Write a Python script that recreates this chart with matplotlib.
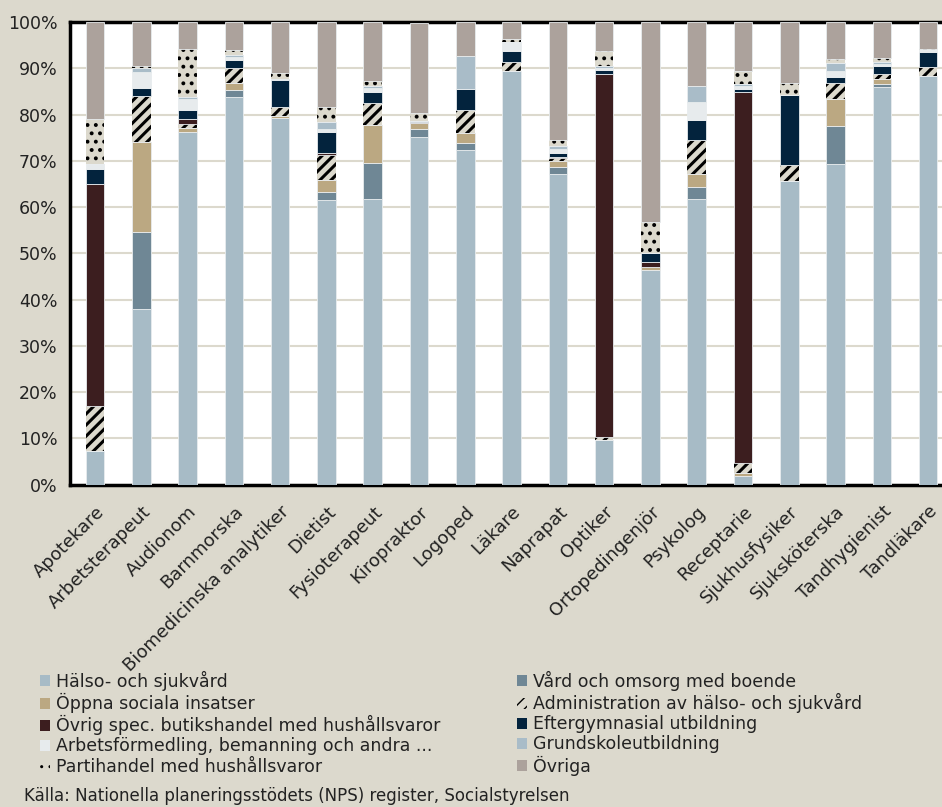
import matplotlib
matplotlib.use("Agg")
import matplotlib.pyplot as plt
import numpy as np
from matplotlib.patches import Patch

plt.rcParams['font.family'] = ['DejaVu Sans']

categories = ["Apotekare", "Arbetsterapeut", "Audionom", "Barnmorska",
              "Biomedicinska analytiker", "Dietist", "Fysioterapeut", "Kiropraktor",
              "Logoped", "Läkare", "Naprapat", "Optiker", "Ortopedingenjör",
              "Psykolog", "Receptarie", "Sjukhusfysiker", "Sjuksköterska",
              "Tandhygienist", "Tandläkare"]

series_names = ["Hälso- och sjukvård", "Vård och omsorg med boende",
                "Öppna sociala insatser", "Administration av hälso- och sjukvård",
                "Övrig spec. butikshandel med hushållsvaror", "Eftergymnasial utbildning",
                "Arbetsförmedling, bemanning och andra ...", "Grundskoleutbildning",
                "Partihandel med hushållsvaror", "Övriga"]

halso      = [7.3, 37.9, 76.2, 83.8, 79.2, 61.5, 61.7, 75.1, 72.3, 89.4, 67.2, 9.6, 46.4, 61.7, 1.9, 65.6, 69.3, 85.9, 88.3]
vard       = [0.0, 16.8, 0.0, 1.5, 0.0, 1.8, 7.9, 1.7, 1.5, 0.0, 1.4, 0.0, 0.0, 2.6, 0.0, 0.0, 8.2, 0.7, 0.0]
oppna      = [0.0, 19.4, 1.0, 1.6, 0.5, 2.6, 8.2, 1.3, 2.2, 0.0, 1.4, 0.0, 0.7, 2.8, 0.5, 0.0, 5.9, 1.1, 0.0]
admin      = [9.7, 10.0, 0.8, 3.2, 1.9, 5.4, 4.8, 0.0, 5.1, 2.0, 0.6, 0.7, 0.0, 7.4, 2.2, 3.6, 3.4, 1.2, 2.1]
butik      = [48.0, 0.0, 1.0, 0.0, 0.0, 0.5, 0.0, 0.3, 0.0, 0.0, 0.3, 78.6, 1.1, 0.0, 80.4, 0.0, 0.0, 0.0, 0.0]
efter      = [3.2, 1.7, 2.0, 1.7, 5.8, 4.5, 2.2, 0.3, 4.4, 2.4, 0.7, 0.7, 1.8, 4.3, 0.5, 15.0, 1.3, 1.6, 3.2]
arbetsf    = [1.2, 3.5, 2.4, 0.6, 0.0, 0.6, 0.9, 0.0, 0.0, 2.0, 0.9, 0.5, 0.0, 4.0, 0.7, 0.0, 1.3, 0.4, 0.4]
grundskola = [0.0, 0.7, 0.4, 0.6, 0.4, 1.6, 0.5, 0.0, 7.2, 0.0, 0.8, 0.4, 0.0, 3.4, 0.4, 0.0, 1.7, 0.5, 0.0]
partihandel= [9.7, 0.5, 10.5, 1.0, 1.3, 3.1, 1.1, 1.6, 0.0, 0.5, 1.3, 3.3, 6.8, 0.0, 2.9, 2.6, 0.9, 0.8, 0.3]
ovriga     = [20.9, 9.5, 5.7, 6.0, 10.9, 18.4, 12.7, 19.6, 7.3, 3.7, 25.4, 6.2, 43.2, 13.8, 10.5, 13.2, 8.0, 7.8, 5.7]

data = [halso, vard, oppna, admin, butik, efter, arbetsf, grundskola, partihandel, ovriga]

BEIGE = "#dcd9cd"
colors = ["#a7bbc6", "#6f8795", "#bba882", BEIGE, "#3c1e1f", "#03233d",
          "#e7ebed", "#a9bcc8", BEIGE, "#aca29c"]
hatches = [None, None, None, "///", None, None, None, None, "..", None]
hatch_lw = {"///": 2.2, "..": 1.6}

fig = plt.figure(figsize=(9.42, 8.07), dpi=100, facecolor=BEIGE)
ax = fig.add_axes([70/942, 1 - 484.5/807, 1 - 70/942 + 0.02, (484.5 - 22.2)/807])
ax.set_facecolor("white")

x = np.arange(len(categories))
bottom = np.zeros(len(categories))
handles = []
for name, vals, col, h in zip(series_names, data, colors, hatches):
    vals = np.array(vals)
    if h:
        with plt.rc_context({"hatch.linewidth": hatch_lw[h]}):
            ax.bar(x, vals, 0.4, bottom=bottom, color=col, hatch=h, edgecolor="black",
                   linewidth=0, zorder=3)
            handles.append(Patch(facecolor=col, hatch=h, edgecolor="black", linewidth=0, label=name))
    else:
        ax.bar(x, vals, 0.4, bottom=bottom, color=col, edgecolor="#e8ecee",
               linewidth=0.6, zorder=3)
        handles.append(Patch(facecolor=col, edgecolor="none", label=name))
    bottom += vals

ax.set_xlim(-0.54, 18.3 + 0.02 * 942 / 46.3)
ax.set_ylim(0, 100)
ax.set_yticks(np.arange(0, 101, 10))
ax.set_yticklabels([f"{v}%" for v in range(0, 101, 10)], fontsize=12.5, color="#222222")
ax.yaxis.grid(True, color=BEIGE, linewidth=1.5, zorder=0)
ax.set_axisbelow(True)
ax.tick_params(axis="y", length=0, pad=9)
ax.set_xticks(x)
ax.set_xticklabels(categories, rotation=45, ha="right", rotation_mode="anchor",
                   fontsize=13, color="#222222")
ax.tick_params(axis="x", length=0, pad=13)
for s in ["left", "bottom", "top"]:
    ax.spines[s].set_linewidth(2.5)
    ax.spines[s].set_color("black")
ax.spines["right"].set_visible(False)

leg_kw = dict(loc="upper left", frameon=False, fontsize=12.5, handlelength=0.6,
              handleheight=0.6, handletextpad=0.35, labelspacing=0.12,
              borderaxespad=0, borderpad=0)
left_idx = [0, 2, 4, 6, 8]
right_idx = [1, 3, 5, 7, 9]
leg1 = fig.legend([handles[i] for i in left_idx], [series_names[i] for i in left_idx],
                  bbox_to_anchor=(40/942, 1 - 671/807), **leg_kw)
leg2 = fig.legend([handles[i] for i in right_idx], [series_names[i] for i in right_idx],
                  bbox_to_anchor=(517/942, 1 - 671/807), **leg_kw)
for lg in (leg1, leg2):
    for t in lg.get_texts():
        t.set_color("#222222")

fig.text(24/942, 1 - 796/807, "Källa: Nationella planeringsstödets (NPS) register, Socialstyrelsen",
         fontsize=12, color="#222222", va="center", ha="left")

fig.savefig("out.png", dpi=100, facecolor=BEIGE)
